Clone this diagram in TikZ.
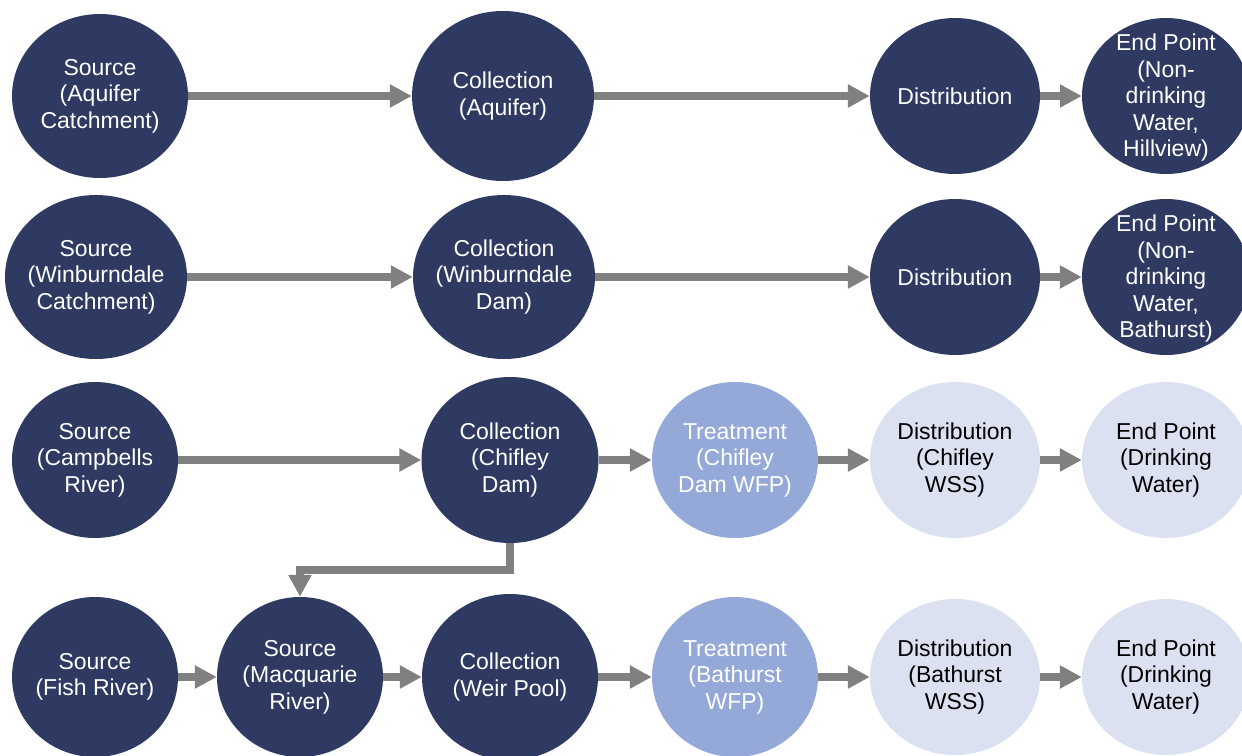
\documentclass[tikz,border=0pt]{standalone}
\usepackage{fontspec}
\setmainfont{Liberation Sans}
\usetikzlibrary{shapes.geometric,arrows.meta}
\definecolor{navy}{HTML}{2E3A62}
\definecolor{treat}{HTML}{95A9D8}
\definecolor{pale}{HTML}{DCE1F2}
\definecolor{arrowgray}{HTML}{808080}
\begin{document}
\begin{tikzpicture}[x=1pt,y=-1pt,
  blob/.style={ellipse, inner sep=0pt, draw=none},
  dark/.style={blob, fill=navy},
  mid/.style={blob, fill=treat},
  light/.style={blob, fill=pale},
  big/.style={minimum width=176pt, minimum height=164pt},
  small/.style={minimum width=168pt, minimum height=156pt},
  txt/.style={align=center, inner sep=0pt, font=\fontsize{23}{26.5}\selectfont},
  wtxt/.style={txt, text=white},
  btxt/.style={txt, text=black},
  arr/.style={draw=arrowgray, line width=8pt, line join=miter, -{Triangle[length=22pt,width=22pt]}}]
\useasboundingbox (0,0) rectangle (1242,755);
% Row 1
\node[dark, big] (s1) at (100,96) {};
\node[dark, minimum width=182pt, minimum height=170pt] (c1) at (503,96) {};
\node[dark, minimum width=170pt, minimum height=156pt] (d1) at (955,96) {};
\node[dark, small] (e1) at (1166,96) {};
\node[wtxt] (s1t) at (s1) {Source\\(Aquifer\\Catchment)};
\node[wtxt] (c1t) at (c1) {Collection\\(Aquifer)};
\node[wtxt] (d1t) at (d1) {Distribution};
\node[wtxt] (e1t) at (1166,98) {End Point\\(Non-\\drinking\\Water,\\Hillview)};
% Row 2
\node[dark, minimum width=182pt, minimum height=164pt] (s2) at (96,277) {};
\node[dark, minimum width=182pt, minimum height=164pt] (c2) at (504,277) {};
\node[dark, minimum width=170pt, minimum height=156pt] (d2) at (955,277) {};
\node[dark, small] (e2) at (1166,277) {};
\node[wtxt] (s2t) at (s2) {Source\\(Winburndale\\Catchment)};
\node[wtxt] (c2t) at (c2) {Collection\\(Winburndale\\Dam)};
\node[wtxt] (d2t) at (d2) {Distribution};
\node[wtxt] (e2t) at (1166,279) {End Point\\(Non-\\drinking\\Water,\\Bathurst)};
% Row 3
\node[dark, minimum width=166pt, minimum height=156pt] (s3) at (95,460) {};
\node[dark, minimum width=177pt, minimum height=166pt] (c3) at (510,460) {};
\node[mid, minimum width=166pt, minimum height=156pt] (t3) at (735,460) {};
\node[light, minimum width=170pt, minimum height=156pt] (d3) at (955,460) {};
\node[light, small] (e3) at (1166,460) {};
\node[wtxt] (s3t) at (s3) {Source\\(Campbells\\River)};
\node[wtxt] (c3t) at (c3) {Collection\\(Chifley\\Dam)};
\node[wtxt] (t3t) at (t3) {Treatment\\(Chifley\\Dam WFP)};
\node[btxt] (d3t) at (d3) {Distribution\\(Chifley\\WSS)};
\node[btxt] (e3t) at (e3) {End Point\\(Drinking\\Water)};
% Row 4
\node[dark, minimum width=166pt, minimum height=160pt] (s4) at (95,677) {};
\node[dark, minimum width=166pt, minimum height=160pt] (m4) at (300,677) {};
\node[dark, minimum width=176pt, minimum height=166pt] (c4) at (510,677) {};
\node[mid, minimum width=166pt, minimum height=160pt] (t4) at (735,677) {};
\node[light, minimum width=170pt, minimum height=156pt] (d4) at (955,677) {};
\node[light, small] (e4) at (1166,677) {};
\node[wtxt] (s4t) at (s4) {Source\\(Fish River)};
\node[wtxt] (m4t) at (m4) {Source\\(Macquarie\\River)};
\node[wtxt] (c4t) at (c4) {Collection\\(Weir Pool)};
\node[wtxt] (t4t) at (t4) {Treatment\\(Bathurst\\WFP)};
\node[btxt] (d4t) at (d4) {Distribution\\(Bathurst\\WSS)};
\node[btxt] (e4t) at (e4) {End Point\\(Drinking\\Water)};
% Connectors
\draw[arr] (s1) -- (c1);
\draw[arr] (c1) -- (d1);
\draw[arr] (d1) -- (e1);
\draw[arr] (s2) -- (c2);
\draw[arr] (c2) -- (d2);
\draw[arr] (d2) -- (e2);
\draw[arr] (s3) -- (c3);
\draw[arr] (c3) -- (t3);
\draw[arr] (t3) -- (d3);
\draw[arr] (d3) -- (e3);
\coordinate (bend) at (300,570);
\draw[arr] (c3.south) |- (bend) -- (m4.north);
\draw[arr] (s4) -- (m4);
\draw[arr] (m4) -- (c4);
\draw[arr] (c4) -- (t4);
\draw[arr] (t4) -- (d4);
\draw[arr] (d4) -- (e4);
\end{tikzpicture}
\end{document}
